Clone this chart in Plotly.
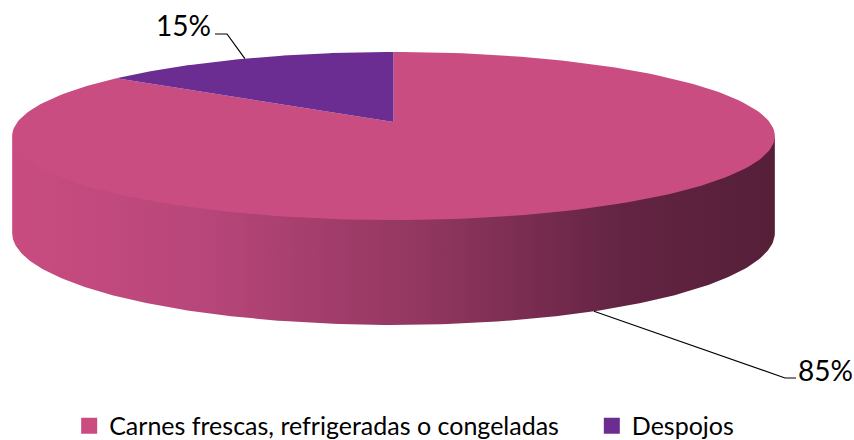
import numpy as np
import plotly.graph_objects as go

# ---- data ----
labels = ["Carnes frescas, refrigeradas o congeladas", "Despojos"]
values = [85, 15]
colors = ["#CA4D81", "#6C2D93"]
side_scale = [[0.0, "#C94C80"], [0.25, "#B8467A"], [0.55, "#90365E"], [0.8, "#632443"], [1.0, "#561F38"]]

# ---- projection of a tilted disc (perspective) ----
CX, CY = 393.5, 122.0
A, B, K = 376.0, 81.7, 0.1667
B_BOT = 89.4
DEPTH = 95.7


def proj(theta_deg, bottom=False):
    t = np.radians(theta_deg)
    X = np.sin(t)
    Z = np.cos(t)
    d = 1 + K * Z
    if bottom:
        return CX + A * X / d, CY + DEPTH - B_BOT * Z / d
    return CX + A * X / d, CY - B * Z / d


total = float(sum(values))
starts = np.concatenate([[0.0], np.cumsum(values)[:-1]]) / total * 360.0
ends = np.cumsum(values) / total * 360.0
theta_ext = np.degrees(np.arccos(-K))

fig = go.Figure()

# sides (front visible part); top edge tucked slightly under the top face to avoid a seam
for i in range(len(values)):
    lo = max(starts[i], theta_ext)
    hi = min(ends[i], 360 - theta_ext)
    if hi <= lo:
        continue
    th = np.linspace(lo, hi, 200)
    xt, yt = proj(th)
    yt = yt - 2
    xb, yb = proj(th[::-1], bottom=True)
    fig.add_trace(go.Scatter(
        x=np.concatenate([xt, xb, xt[:1]]), y=np.concatenate([yt, yb, yt[:1]]),
        mode="lines", fill="toself", line=dict(width=0),
        fillgradient=dict(type="horizontal", colorscale=side_scale),
        hoverinfo="skip", showlegend=False))

# top faces
for i in range(len(values)):
    th = np.linspace(starts[i], ends[i], 200)
    xs, ys = proj(th)
    fig.add_trace(go.Scatter(
        x=np.concatenate([[CX], xs, [CX]]), y=np.concatenate([[CY], ys, [CY]]),
        mode="lines", fill="toself", fillcolor=colors[i], line=dict(width=0),
        hoverinfo="skip", showlegend=False))

# legend entries (each in its own legend box for Excel-like spacing)
legend_ids = ["legend", "legend2"]
for i in range(len(values)):
    fig.add_trace(go.Scatter(
        x=[None], y=[None], mode="markers", name=labels[i], legend=legend_ids[i],
        marker=dict(symbol="square", size=16, color=colors[i])))

# data labels with leader lines
mid0 = (starts[0] + ends[0]) / 2
mid1 = (starts[1] + ends[1]) / 2
ax0, ay0 = proj(mid0, bottom=True)
ax1, ay1 = proj(mid1)
pct = [f"{round(v / total * 100)}%" for v in values]

fig.add_trace(go.Scatter(x=[ax0, 785, 796], y=[ay0, 378, 378], mode="lines",
                         line=dict(color="black", width=1.2), hoverinfo="skip", showlegend=False))
fig.add_trace(go.Scatter(x=[ax1, 227, 215], y=[ay1, 34, 34], mode="lines",
                         line=dict(color="black", width=1.2), hoverinfo="skip", showlegend=False))
fig.add_annotation(x=796, y=370, text=pct[0], showarrow=False, xanchor="left", yanchor="middle",
                   font=dict(family="Lato", size=28, color="black"))
fig.add_annotation(x=213, y=25, text=pct[1], showarrow=False, xanchor="right", yanchor="middle",
                   font=dict(family="Lato", size=28, color="black"))

leg_common = dict(orientation="h", xanchor="left", y=0.032, yanchor="middle",
                  font=dict(family="Lato", size=25, color="black"),
                  itemsizing="trace", bgcolor="rgba(0,0,0,0)")

fig.update_layout(
    width=854, height=440, autosize=False,
    margin=dict(l=0, r=0, t=0, b=0, autoexpand=False),
    paper_bgcolor="white", plot_bgcolor="white",
    xaxis=dict(range=[0, 854], visible=False, fixedrange=True),
    yaxis=dict(range=[440, 0], visible=False, fixedrange=True),
    showlegend=True,
    legend=dict(x=0.081, **leg_common),
    legend2=dict(x=0.693, **leg_common),
    font=dict(family="Lato"),
)

fig.write_html("out.html", config={"displayModeBar": False},
               post_script="document.body.style.margin='0';document.body.style.padding='0';")
